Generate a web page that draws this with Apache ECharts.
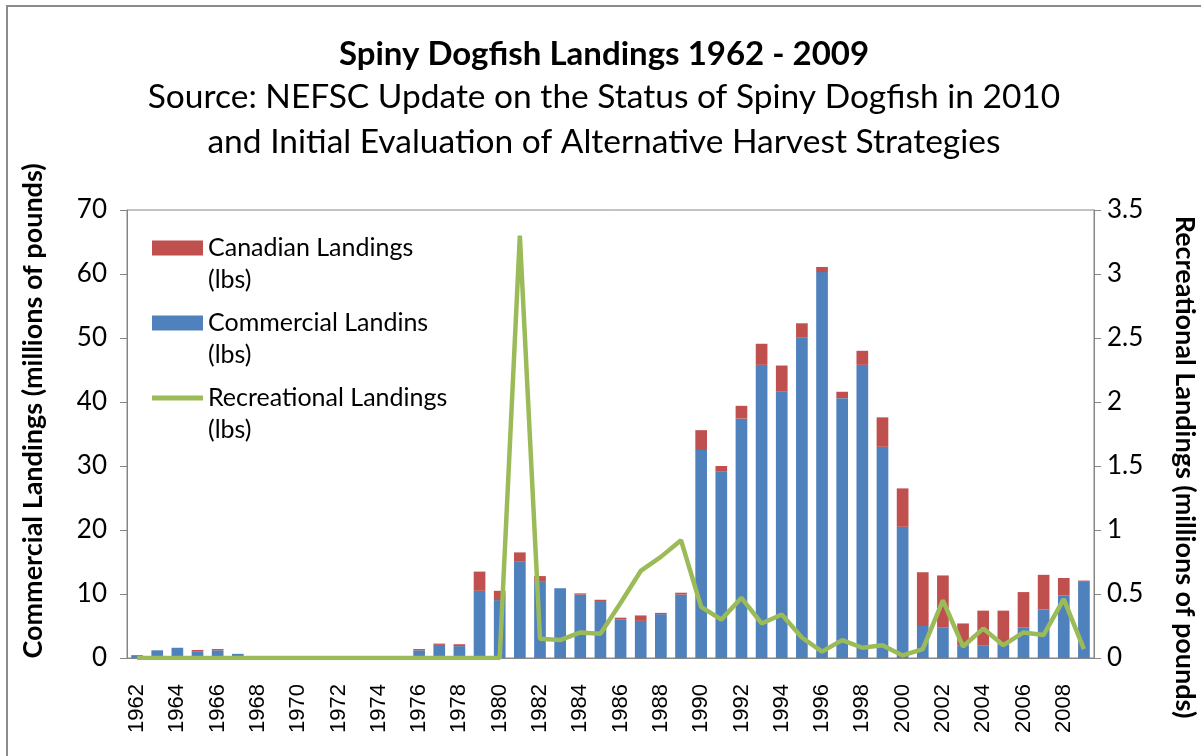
<!DOCTYPE html>
<html>
<head>
<meta charset="utf-8">
<script src="https://cdn.jsdelivr.net/npm/echarts@6/dist/echarts.min.js"></script>
<style>
  html, body { margin: 0; padding: 0; background: #fff; }
  #chart { width: 1201px; height: 756px; }
</style>
</head>
<body>
<div id="chart"></div>
<script>
// Spiny dogfish landings
const years = [];
for (let y = 1962; y <= 2009; y++) years.push(String(y));

// millions of pounds, left axis
const commercial = [
  0.45, 1.2, 1.6, 1.05, 1.2, 0.65, 0, 0, 0, 0,
  0, 0, 0, 0, 1.2, 2.05, 1.85, 10.5, 9.05, 15.1,
  11.9, 10.9, 9.9, 8.9, 6.05, 5.8, 6.85, 9.9, 32.5, 29.1,
  37.4, 45.8, 41.6, 50.1, 60.3, 40.6, 45.8, 33.0, 20.5, 5.0,
  4.8, 2.0, 2.0, 2.1, 4.8, 7.6, 9.8, 11.9
];
const canadian = [
  0, 0, 0, 0.2, 0.2, 0, 0, 0, 0, 0,
  0, 0, 0, 0, 0.2, 0.2, 0.3, 3.0, 1.45, 1.4,
  0.9, 0, 0.2, 0.2, 0.25, 0.85, 0.2, 0.3, 3.1, 0.9,
  2.0, 3.3, 4.1, 2.2, 0.8, 1.0, 2.2, 4.6, 6.0, 8.4,
  8.1, 3.4, 5.4, 5.3, 5.5, 5.4, 2.7, 0.2
];
// millions of pounds, right axis
const recreational = [
  0, 0, 0, 0, 0, 0, 0, 0, 0, 0,
  0, 0, 0, 0, 0, 0, 0, 0, 0, 3.3,
  0.15, 0.14, 0.2, 0.19, 0.43, 0.68, 0.79, 0.92, 0.4, 0.3,
  0.47, 0.27, 0.34, 0.16, 0.05, 0.14, 0.08, 0.1, 0.02, 0.07,
  0.45, 0.09, 0.23, 0.1, 0.2, 0.18, 0.46, 0.07
];

const NAME_CAN = 'Canadian Landings\n(lbs)';
const NAME_COM = 'Commercial Landins\n(lbs)';
const NAME_REC = 'Recreational Landings\n(lbs)';

const FONT = 'Lato, "Open Sans", sans-serif';
const AXIS_GRAY = '#868686';

// legend icons: box drawn in top part so it sits beside the first text line
const ICON_BOX = 'path://M0,0L51,0L51,15L0,15Z M0,47L0,47Z';
const ICON_LINE = 'path://M0,5L51,5L51,10L0,10Z M0,0L0,0Z M0,47L0,47Z';

const chart = echarts.init(document.getElementById('chart'));

chart.setOption({
  animation: false,
  backgroundColor: '#fff',
  title: {
    left: 604,
    top: 35,
    padding: 0,
    textAlign: 'center',
    text: 'Spiny Dogfish Landings 1962 - 2009',
    textStyle: { fontFamily: FONT, fontSize: 33, fontWeight: 'bold', color: '#000', lineHeight: 38 },
    subtext: 'Source: NEFSC Update on the Status of Spiny Dogfish in 2010\nand Initial Evaluation of Alternative Harvest Strategies',
    subtextStyle: { fontFamily: FONT, fontSize: 33.5, color: '#000', lineHeight: 45 },
    itemGap: 2
  },
  legend: {
    left: 152,
    top: 232,
    padding: 0,
    orient: 'vertical',
    itemWidth: 51,
    itemHeight: 47,
    itemGap: 11,
    selectedMode: false,
    textStyle: { fontFamily: FONT, fontSize: 25, color: '#000', lineHeight: 32 },
    itemStyle: { borderWidth: 0 },
    data: [
      { name: NAME_CAN, icon: ICON_BOX },
      { name: NAME_COM, icon: ICON_BOX },
      { name: NAME_REC, icon: ICON_LINE }
    ]
  },
  grid: {
    left: 127,
    right: 107,
    top: 210,
    bottom: 98,
    show: true,
    borderColor: AXIS_GRAY,
    borderWidth: 1
  },
  xAxis: {
    type: 'category',
    data: years,
    boundaryGap: true,
    axisLine: { lineStyle: { color: AXIS_GRAY, width: 1 } },
    axisTick: { interval: 0, length: 8, lineStyle: { color: AXIS_GRAY } },
    axisLabel: {
      interval: 1,
      rotate: 90,
      margin: 26,
      fontFamily: '"Liberation Sans", Arial, sans-serif',
      fontSize: 22,
      color: '#000'
    }
  },
  yAxis: [
    {
      type: 'value',
      min: 0,
      max: 70,
      interval: 10,
      splitLine: { show: false },
      axisLine: { show: true, lineStyle: { color: AXIS_GRAY } },
      axisTick: { show: true, length: 7, lineStyle: { color: AXIS_GRAY } },
      axisLabel: { margin: 20, fontFamily: FONT, fontSize: 26, color: '#000' }
    },
    {
      type: 'value',
      min: 0,
      max: 3.5,
      interval: 0.5,
      position: 'right',
      splitLine: { show: false },
      axisLine: { show: true, lineStyle: { color: AXIS_GRAY } },
      axisTick: { show: true, length: 7, lineStyle: { color: AXIS_GRAY } },
      axisLabel: { margin: 13, fontFamily: FONT, fontSize: 26, color: '#000' }
    }
  ],
  series: [
    {
      name: NAME_COM,
      type: 'bar',
      stack: 'landings',
      barWidth: '58%',
      itemStyle: { color: '#4F81BD' },
      data: commercial
    },
    {
      name: NAME_CAN,
      type: 'bar',
      stack: 'landings',
      barWidth: '58%',
      itemStyle: { color: '#C0504D' },
      data: canadian
    },
    {
      name: NAME_REC,
      type: 'line',
      yAxisIndex: 1,
      symbol: 'none',
      color: '#9BBB59',
      lineStyle: { color: '#9BBB59', width: 4.5 },
      z: 5,
      data: recreational
    }
  ],
  graphic: [
    {
      type: 'rect',
      shape: { x: 7, y: 6, width: 1210, height: 770 },
      style: { fill: 'none', stroke: '#8c8c8c', lineWidth: 2 },
      silent: true
    },
    {
      type: 'text',
      x: 33,
      y: 411,
      rotation: Math.PI / 2,
      style: {
        text: 'Commercial Landings (millions of pounds)',
        fontFamily: FONT, fontSize: 27, fontWeight: 'bold', fill: '#000',
        align: 'center', verticalAlign: 'middle'
      }
    },
    {
      type: 'text',
      x: 1185,
      y: 467,
      rotation: -Math.PI / 2,
      style: {
        text: 'Recreational Landings (millions of pounds)',
        fontFamily: FONT, fontSize: 27, fontWeight: 'bold', fill: '#000',
        align: 'center', verticalAlign: 'middle'
      }
    }
  ]
});
</script>
</body>
</html>
